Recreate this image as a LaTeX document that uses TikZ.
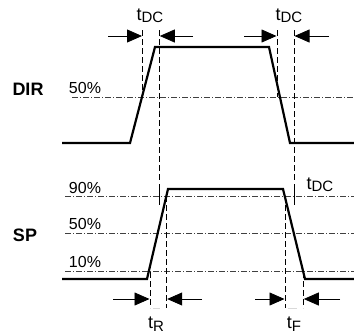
\documentclass[tikz,border=0pt]{standalone}
\usepackage{fontspec}
\setmainfont{Liberation Sans}
\usetikzlibrary{arrows.meta}
\tikzset{>={Triangle[length=15pt,width=13pt]}}
\tikzset{
  signal/.style={line width=2.2pt},
  level/.style={line width=0.7pt, dash pattern=on 6pt off 2pt on 1pt off 2pt, black!75},
  guide/.style={line width=0.8pt, dash pattern=on 6pt off 3pt},
  tick/.style={line width=0.8pt},
  pointer/.style={->, line width=0.8pt},
  lbl/.style={font=\fontsize{16}{16}\selectfont, inner sep=0pt},
  sig name/.style={font=\fontsize{18}{18}\selectfont\bfseries, inner sep=0pt},
}
\newcommand{\tsub}[1]{{\fontsize{18}{18}\selectfont t}{\fontsize{15}{15}\selectfont\raisebox{-2.5pt}{#1}}}

\begin{document}
\begin{tikzpicture}[x=1pt, y=-1pt]
    \useasboundingbox (0,0) rectangle (354,335);
    % DIR signal
    \coordinate (D1) at (62,143);
    \coordinate (D2) at (130,143);
    \coordinate (D3) at (155,47);
    \coordinate (D4) at (269,47);
    \coordinate (D5) at (290,143);
    \coordinate (D6) at (354,143);
    \draw[level] (72,97) -- (354,97);
    \draw[signal] (D1) -- (D2) -- (D3) -- (D4) -- (D5) -- (D6);
    \node[sig name] (dir) at (28,89) {DIR};
    \node[lbl] (dir50) at (85,88) {50\%};
    % SP signal
    \coordinate (S1) at (62,279);
    \coordinate (S2) at (147,279);
    \coordinate (S3) at (168,189);
    \coordinate (S4) at (283,189);
    \coordinate (S5) at (305,279);
    \coordinate (S6) at (354,279);
    \foreach \y in {196,233,271.5}
    \draw[level] (65,\y) -- (354,\y);
    \draw[signal] (S1) -- (S2) -- (S3) -- (S4) -- (S5) -- (S6);
    \node[sig name] (sp) at (25,235) {SP};
    \node[lbl] (sp90) at (85,188) {90\%};
    \node[lbl] (sp50) at (85,224) {50\%};
    \node[lbl] (sp10) at (85,262) {10\%};
    % guides
    \draw[guide] (142.5,30) -- (142.5,97);
    \draw[guide] (159.3,30) -- (159.3,182);
    \draw[tick] (159.3,184) -- (159.3,205);
    \draw[guide] (277,30) -- (277,97);
    \draw[guide] (294,30) -- (294,182);
    \draw[tick] (294,184) -- (294,205);
    \draw[guide] (150,272) -- (150,308);
    \draw[guide] (166.7,196) -- (166.7,308);
    \draw[guide] (285,196) -- (285,308);
    \draw[guide] (303.3,272) -- (303.3,308);
    \draw[black!15, line width=0.8pt] (153,308) -- (160,308);
    \draw[black!15, line width=0.8pt] (288,308) -- (297,308);
    % arrows
    \draw[pointer] (108,36) -- (142,36);
    \draw[pointer] (193,36) -- (159.8,36);
    \draw[pointer] (244,36) -- (276.5,36);
    \draw[pointer] (329,36) -- (294.5,36);
    \draw[pointer] (113,299) -- (149.5,299);
    \draw[pointer] (202,299) -- (167.2,299);
    \draw[pointer] (255,299) -- (284.5,299);
    \draw[pointer] (340,299) -- (303.8,299);
    % labels
    \node[lbl] (dc1) at (150,16) {\tsub{DC}};
    \node[lbl] (dc2) at (289,16) {\tsub{DC}};
    \node[lbl] (dc3) at (320,185) {\tsub{DC}};
    \node[lbl] (rise) at (156,324) {\tsub{R}};
    \node[lbl] (fall) at (294,324) {\tsub{F}};
\end{tikzpicture}
\end{document}
